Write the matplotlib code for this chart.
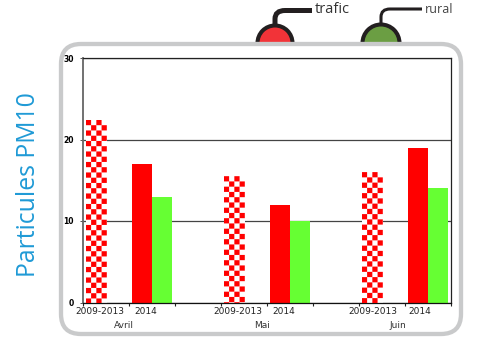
import numpy as np
import matplotlib
matplotlib.use("Agg")
import matplotlib.pyplot as plt
from matplotlib.patches import FancyBboxPatch, Circle, Rectangle, PathPatch
from matplotlib.path import Path

months = ["Avril", "Mai", "Juin"]
period_labels = ["2009-2013", "2014"]
reference_trafic = [22.4, 15.5, 16]
trafic_2014 = [17, 12, 19]
rural_2014 = [13, 10, 14]
y_ticks = [0, 10, 20, 30]
legend_names = ["trafic", "rural"]

W, H = 478, 349
fig = plt.figure(figsize=(W / 100, H / 100), dpi=100)
plt.rcParams["font.family"] = ["Open Sans", "DejaVu Sans"]

# Pixel-space layer for the frame, the side title and the legend lamps
deco = fig.add_axes([0, 0, 1, 1], zorder=0)
deco.set_xlim(0, W)
deco.set_ylim(H, 0)
deco.axis("off")

for cx, r, col in [(275, 17.5, "#f23338"), (381, 18.5, "#6b9e43")]:
    lamp = Circle((cx, 43), r, fc=col, ec="#231f20", lw=2.9)
    lamp.set_clip_path(Rectangle((0, 0), W, 42, transform=deco.transData))
    deco.add_patch(lamp)

stem_red = Path([(275, 25), (275, 19), (275, 10.5), (285, 10.5), (312, 10.5)],
                [Path.MOVETO, Path.LINETO, Path.CURVE3, Path.CURVE3, Path.LINETO])
stem_green = Path([(381, 25), (381, 17), (381, 9), (390, 9), (422, 9)],
                  [Path.MOVETO, Path.LINETO, Path.CURVE3, Path.CURVE3, Path.LINETO])
deco.add_patch(PathPatch(stem_red, fc="none", ec="#231f20", lw=3.6, capstyle="butt"))
deco.add_patch(PathPatch(stem_green, fc="none", ec="#231f20", lw=2.2, capstyle="butt"))
deco.text(315, 9.5, legend_names[0], fontsize=10.5, color="#333333", va="center", ha="left")
deco.text(425, 9.5, legend_names[1], fontsize=9, color="#444444", va="center", ha="left")

deco.add_patch(FancyBboxPatch((61, 44), 400, 290,
                              boxstyle="round,pad=0,rounding_size=20",
                              fc="white", ec="#c9cacb", lw=3.1))
deco.text(29, 184.5, "Particules PM10", rotation=90, fontsize=17.8, color="#1f9ad6",
          ha="center", va="center")

# Bar chart
left, right, top, bottom = 83, 451, 58, 302.5
ax = fig.add_axes([left / W, 1 - bottom / H, (right - left) / W, (bottom - top) / H], zorder=1)
ax.patch.set_alpha(0)
ax.set_xlim(0, 8)
ax.set_ylim(0, 30)

bar_w = 0.445
checker_w = 0.455
group_start = np.array([0, 3, 6])
checker_cols = 4
px_per_unit = (bottom - top) / 30
cell_h = 5.25 / px_per_unit

# Checkered bars: a white bar with red squares stacked down from its top, clipped to the bar
for x0, val in zip(group_start, reference_trafic):
    xc = x0 + 0.29
    bar = ax.bar(xc, val, checker_w, color="white", zorder=2)[0]
    cell_w = checker_w / checker_cols
    rows = int(np.ceil(val / cell_h))
    for row in range(rows):
        for col in range(checker_cols):
            if (row + col) % 2 == 0:
                square = Rectangle((xc - checker_w / 2 + col * cell_w, val - (row + 1) * cell_h),
                                   cell_w, cell_h, fc="#ff0000", ec="none", zorder=3, snap=False)
                ax.add_patch(square)
                square.set_clip_path(bar)

ax.bar(group_start + 1.28, trafic_2014, bar_w, color="#ff0000", zorder=2)
ax.bar(group_start + 1.72, rural_2014, bar_w, color="#66ff33", zorder=2)

ax.set_yticks(y_ticks)
ax.set_yticklabels(y_ticks, fontsize=5.5, fontweight="bold", family="DejaVu Sans")
ax.set_xticks(np.arange(0, 9))
ax.set_xticklabels([])
ax.tick_params(axis="y", length=2, width=0.7, pad=4.5, color="#555555")
ax.tick_params(axis="x", length=2, width=0.8, color="#222222")
ax.grid(axis="y", color="#444444", lw=0.9, zorder=1)
ax.set_axisbelow(True)
ax.spines["left"].set_color("#666666")
ax.spines["left"].set_linewidth(1.3)
ax.spines["bottom"].set_color("#111111")
ax.spines["top"].set_color("#222222")
ax.spines["right"].set_color("#222222")
for name in ("bottom", "top", "right"):
    ax.spines[name].set_linewidth(0.9)

# Period and month captions below the axis
trans = ax.get_xaxis_transform()
label_shift = [-0.13, -0.13, -0.19]
month_y = [325, 325, 326]
month_x = [0.89, 3.89, 6.85]
for g, x0 in enumerate(group_start):
    ax.text(x0 + 0.5 + label_shift[g], (bottom - 312) / (bottom - top), period_labels[0],
            transform=trans, fontsize=6.5, ha="center", va="center", color="#222222",
            family="DejaVu Sans")
    ax.text(x0 + 1.5 + label_shift[g], (bottom - 312) / (bottom - top), period_labels[1],
            transform=trans, fontsize=6.5, ha="center", va="center", color="#222222",
            family="DejaVu Sans")
    ax.text(month_x[g], (bottom - month_y[g]) / (bottom - top), months[g],
            transform=trans, fontsize=6.5, ha="center", va="center", color="#333333",
            family="DejaVu Sans")

fig.savefig("out.png", dpi=100)
